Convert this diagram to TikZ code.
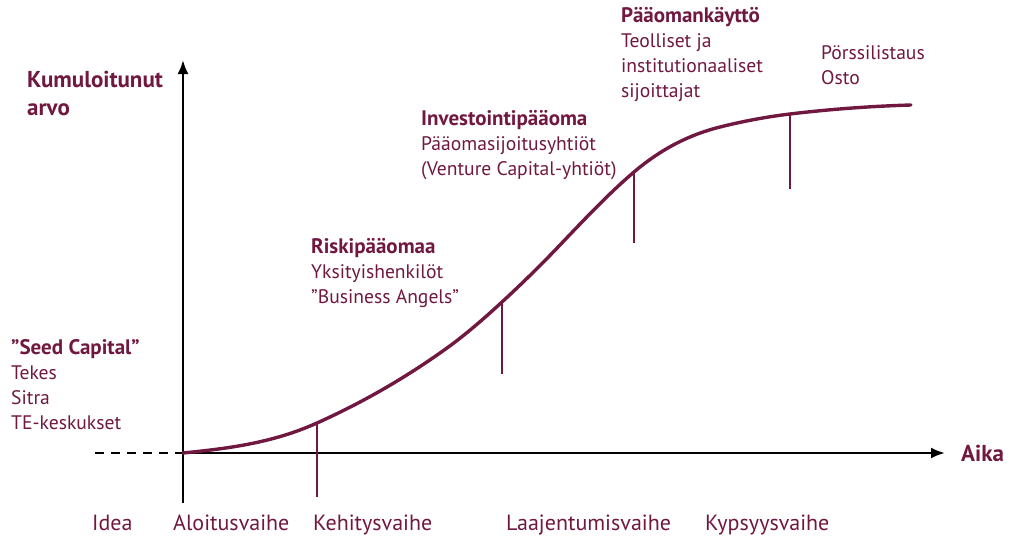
\documentclass[tikz,border=0pt]{standalone}
\usepackage{fontspec}
\setmainfont{PT Sans}
\usetikzlibrary{arrows.meta}
\definecolor{wine}{RGB}{112,24,64}
\newcommand{\ttl}[1]{{\fontsize{21}{24.7}\selectfont\bfseries #1}}
\tikzset{
  lbl/.style={anchor=base west, inner sep=0pt, text=wine, font=\fontsize{19.6}{24.7}\selectfont, align=left},
  stage/.style={anchor=base west, inner sep=0pt, text=wine, font=\fontsize{22}{24.7}\selectfont},
  axlbl/.style={anchor=base west, inner sep=0pt, text=wine, font=\fontsize{23}{24.7}\selectfont\bfseries, align=left},
  axis/.style={line width=2.4pt, -{Latex[length=14pt,width=11pt]}},
  curve/.style={wine, line width=3.4pt},
  tick/.style={wine, line width=2.4pt},
}
\begin{document}
\begin{tikzpicture}[x=1pt,y=-1pt]
\useasboundingbox (0,0) rectangle (1010,538);
% axes
\coordinate (O) at (183,453);
\coordinate (ytop) at (183,60);
\coordinate (ybot) at (183,503);
\coordinate (xend) at (945,453);
\coordinate (dstart) at (95,453);
\draw[line width=2.2pt, dash pattern=on 9pt off 7pt] (dstart) -- (O);
\draw[axis] (ybot) -- (ytop);
\draw[axis] (O) -- (xend);
% curve knots
\coordinate (A) at (183,453);
\coordinate (t1) at (317,423);
\coordinate (C) at (447,348);
\coordinate (t2) at (502,302);
\coordinate (D) at (560,245);
\coordinate (t3) at (634,172);
\coordinate (F) at (720,127);
\coordinate (t4) at (790,114);
\coordinate (H) at (911,105);
\coordinate (t1b) at (317,497);
\coordinate (t2b) at (502,374);
\coordinate (t3b) at (634,243);
\coordinate (t4b) at (790,189);
\draw[curve, line cap=round] (A)
  .. controls (227.67,448.53) and (272.33,443.1) .. (t1)
  .. controls (360.33,403.5) and (403.67,379.2) .. (C)
  .. controls (465.33,334.8) and (483.67,318.87) .. (t2)
  .. controls (521.33,284.21) and (540.67,265.3) .. (D)
  .. controls (584.67,219.1) and (609.33,192.97) .. (t3)
  .. controls (662.67,147.63) and (691.33,134.17) .. (F)
  .. controls (743.33,121.17) and (766.67,116.8) .. (t4)
  .. controls (830.33,109.16) and (870.67,106.21) .. (H);
\draw[tick] (t1) -- (t1b);
\draw[tick] (t2) -- (t2b);
\draw[tick] (t3) -- (t3b);
\draw[tick] (t4) -- (t4b);
% labels (base = baseline of last line)
\node[axlbl] (yl) at (27,115) {Kumuloitunut\\[3pt]arvo};
\node[axlbl] (xl) at (961,461) {Aika};
\node[lbl] (seed) at (11,429) {\ttl{”Seed Capital”}\\Tekes\\Sitra\\TE-keskukset};
\node[lbl] (risk) at (311,303) {\ttl{Riskipääomaa}\\Yksityishenkilöt\\”Business Angels”};
\node[lbl] (inv) at (421,175) {\ttl{Investointipääoma}\\Pääomasijoitusyhtiöt\\(Venture Capital-yhtiöt)};
\node[lbl] (pk) at (621,97) {\ttl{Pääomankäyttö}\\Teolliset ja\\institutionaaliset\\sijoittajat};
\node[lbl] (pors) at (821,84) {Pörssilistaus\\Osto};
\node[stage] (idea) at (92,530) {Idea};
\node[stage] (alo) at (173,530) {Aloitusvaihe};
\node[stage] (keh) at (313,530) {Kehitysvaihe};
\node[stage] (laa) at (506,530) {Laajentumisvaihe};
\node[stage] (kyp) at (705,530) {Kypsyysvaihe};
\end{tikzpicture}
\end{document}
